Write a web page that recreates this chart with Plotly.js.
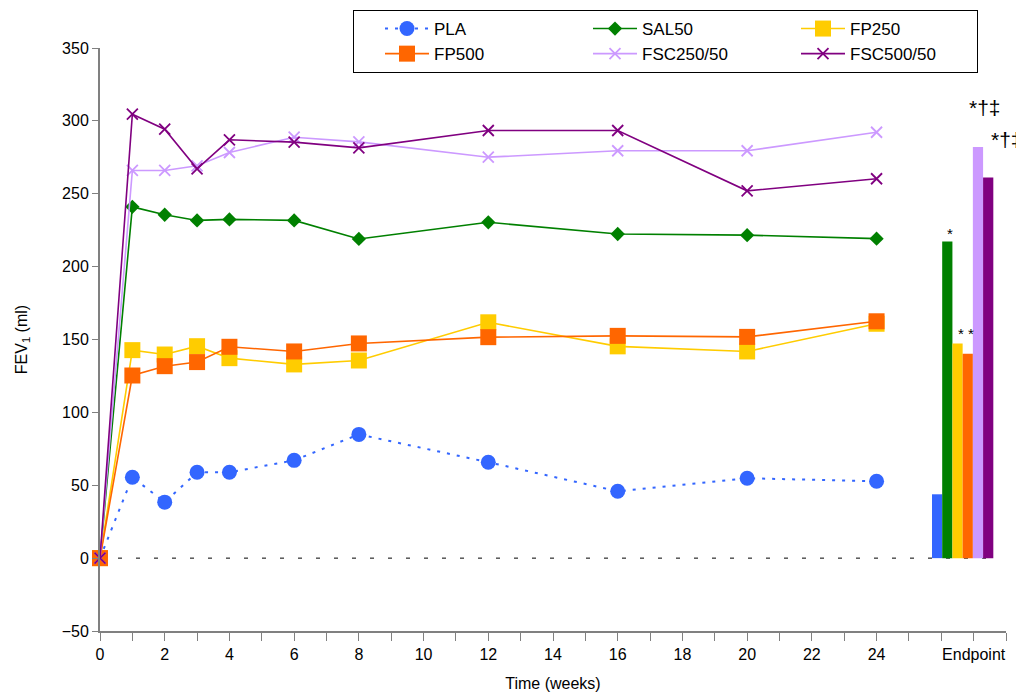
<!DOCTYPE html>
<html>
<head>
<meta charset="utf-8">
<script src="https://cdn.plot.ly/plotly-3.0.1.min.js"></script>
<style>
  html, body { margin: 0; padding: 0; background: #ffffff; }
  #chart { width: 1016px; height: 694px; }
</style>
</head>
<body>
<div id="chart"></div>
<script>
// Study weeks at which FEV1 change from baseline was measured
const weeks = [0, 1, 2, 3, 4, 6, 8, 12, 16, 20, 24];

// Mean change in FEV1 (ml) per treatment arm
const pla      = [0, 55.5, 38.4, 58.9, 58.9, 67.1, 84.9, 65.8, 45.9, 54.8, 52.7];
const sal50    = [0, 241.0, 235.6, 231.7, 232.4, 231.7, 219.0, 230.4, 222.4, 221.6, 219.2];
const fp250    = [0, 142.7, 139.7, 145.4, 137.2, 132.9, 135.6, 161.8, 145.3, 141.8, 160.8];
const fp500    = [0, 125.3, 131.7, 134.5, 145.0, 141.8, 147.3, 151.6, 152.5, 151.8, 162.5];
const fsc250   = [0, 266.0, 266.0, 269.2, 278.3, 288.8, 285.6, 275.1, 279.5, 279.5, 292.2];
const fsc500   = [0, 304.6, 294.3, 267.1, 287.0, 285.4, 281.5, 293.4, 293.4, 252.0, 260.3];

// Endpoint values, one per arm (same order as the series above)
const arms          = ["PLA", "SAL50", "FP250", "FP500", "FSC250/50", "FSC500/50"];
const endpointValue = [43.8, 217.3, 147.3, 140.2, 282.0, 261.2];

// Axis labels
const xTickVals  = [0, 2, 4, 6, 8, 10, 12, 14, 16, 18, 20, 22, 24, 27];
const xTickText  = ["0", "2", "4", "6", "8", "10", "12", "14", "16", "18", "20", "22", "24", "Endpoint"];

// Styling per arm
const colors  = ["#3366FF", "#008000", "#FFCC00", "#FF6600", "#CC99FF", "#800080"];
const symbols = ["circle", "diamond", "square", "square", "x-thin", "x-thin"];
const sizes   = [15, 11, 16, 16, 11, 11];
const series  = [pla, sal50, fp250, fp500, fsc250, fsc500];
// Legend column for each arm (three columns, two rows)
const legendColumn = ["c1", "c2", "c3", "c1", "c2", "c3"];

const FONT = "Liberation Sans, Arial, sans-serif";
const ENDPOINT_CENTER = 26.66;
const BAR_W = 0.316;
const barCenter = i => ENDPOINT_CENTER + (i - 3) * BAR_W + BAR_W / 2;

const traces = [];

// Endpoint bars, drawn side by side around the endpoint position
arms.forEach((name, i) => {
  traces.push({
    type: "bar",
    x: [ENDPOINT_CENTER],
    y: [endpointValue[i]],
    width: BAR_W,
    offset: (i - 3) * BAR_W,
    marker: { color: colors[i], line: { width: 0 } },
    showlegend: false,
    hoverinfo: "skip"
  });
});

// Time-course lines
arms.forEach((name, i) => {
  const isX = symbols[i] === "x-thin";
  traces.push({
    type: "scatter",
    mode: "lines+markers",
    name: name,
    legendgroup: legendColumn[i],
    x: weeks,
    y: series[i],
    cliponaxis: false,
    line: {
      color: colors[i],
      width: i === 0 ? 2 : 1.6,
      dash: i === 0 ? "3px,7px" : "solid"
    },
    marker: {
      symbol: symbols[i],
      size: sizes[i],
      color: colors[i],
      line: { color: colors[i], width: isX ? 1.8 : 0 }
    }
  });
});

// Significance marks above the endpoint bars
const markFont = size => ({ family: FONT, size: size, color: "#000000" });
const annotations = [
  { x: barCenter(1), y: endpointValue[1], text: "*", yanchor: "bottom", yshift: -3,
    xshift: 3, font: markFont(15) },
  { x: (barCenter(2) + barCenter(3)) / 2, y: endpointValue[2], text: "* *", yanchor: "bottom",
    yshift: -1, xshift: 3, font: markFont(15) },
  { x: barCenter(4), y: endpointValue[4], text: "*†‡", yanchor: "bottom", yshift: 26,
    xshift: 7, font: markFont(21) },
  { x: barCenter(5), y: endpointValue[5], text: "*†‡", yanchor: "bottom", xanchor: "left",
    yshift: 24, xshift: 1, font: markFont(21) }
].map(a => Object.assign({ xref: "x", yref: "y", showarrow: false }, a));

const layout = {
  width: 1016,
  height: 694,
  margin: { l: 100, r: 10, t: 48, b: 63, pad: 0, autoexpand: false },
  paper_bgcolor: "#ffffff",
  plot_bgcolor: "#ffffff",
  font: { family: FONT, size: 16, color: "#000000" },
  barmode: "overlay",
  showlegend: true,
  xaxis: {
    range: [0, 28],
    tickmode: "array",
    tickvals: xTickVals,
    ticktext: xTickText,
    ticks: "outside",
    ticklen: 8,
    tickwidth: 1,
    tickcolor: "#808080",
    showline: true,
    linecolor: "#808080",
    linewidth: 2,
    showgrid: false,
    zeroline: false,
    tickfont: { family: FONT, size: 16 },
    minor: {
      tickmode: "linear",
      tick0: 0,
      dtick: 1,
      ticks: "outside",
      ticklen: 8,
      tickwidth: 1,
      tickcolor: "#808080",
      showgrid: false
    },
    title: { text: "Time (weeks)", font: { family: FONT, size: 16 }, standoff: 16 },
    automargin: false
  },
  yaxis: {
    range: [-50, 350],
    tickmode: "linear",
    tick0: 0,
    dtick: 50,
    ticks: "outside",
    ticklen: 6,
    tickwidth: 1,
    tickcolor: "#808080",
    showline: true,
    linecolor: "#808080",
    linewidth: 2,
    showgrid: false,
    zeroline: false,
    tickfont: { family: FONT, size: 16 },
    title: { text: "FEV<sub>1</sub> (ml)", font: { family: FONT, size: 16 }, standoff: 30 },
    automargin: false
  },
  shapes: [{
    type: "line",
    xref: "x", yref: "y",
    x0: 0, x1: 27.8, y0: 0, y1: 0,
    line: { color: "#000000", width: 1, dash: "4px,14px" },
    layer: "below"
  }],
  legend: {
    orientation: "h",
    traceorder: "grouped",
    xref: "container",
    yref: "container",
    x: 353 / 1016,
    y: 1 - 10 / 694,
    xanchor: "left",
    yanchor: "top",
    bgcolor: "#ffffff",
    bordercolor: "#000000",
    borderwidth: 1,
    font: { family: FONT, size: 17, color: "#000000" },
    indentation: 27,
    itemwidth: 44,
    entrywidth: 122,
    entrywidthmode: "pixels",
    tracegroupgap: 0
  },
  annotations: annotations
};

Plotly.newPlot("chart", traces, layout, { displayModeBar: false, staticPlot: true });
</script>
</body>
</html>
